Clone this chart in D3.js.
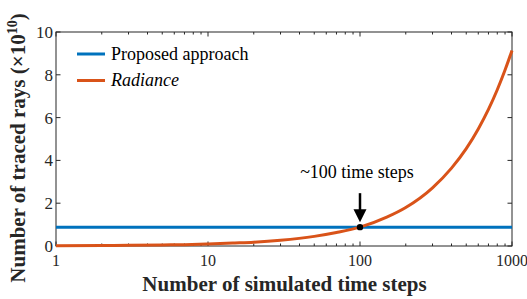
<!DOCTYPE html>
<html>
<head>
<meta charset="utf-8">
<script src="https://cdn.jsdelivr.net/npm/d3@7"></script>
<style>
  body { margin: 0; background: #fff; }
  text { font-family: "Liberation Serif", "Times New Roman", serif; fill: #262626; }
</style>
</head>
<body>
<div id="chart"></div>
<script>
// data
const steps = [1, 2, 3, 5, 7, 10, 15, 20, 30, 50, 70, 100, 150, 200, 300, 400, 500, 600, 700, 800, 900, 1000];
const radiance = [0.01, 0.02, 0.03, 0.05, 0.06, 0.09, 0.14, 0.18, 0.27, 0.45, 0.63, 0.88, 1.35, 1.8, 2.72, 3.64, 4.55, 5.47, 6.38, 7.3, 8.22, 9.14];
const proposedSteps = [1, 1000];
const proposed = [0.88, 0.88];
const xTicks = [1, 10, 100, 1000];
const yTicks = [0, 2, 4, 6, 8, 10];
const crossing = {x: 100, y: 0.88};

let width = 527, height = 299;
let margin = {left: 56, right: 15, top: 32, bottom: 53};

let x = d3.scaleLog().domain([1, 1000]).range([margin.left, width - margin.right]);
let y = d3.scaleLinear().domain([0, 10]).range([height - margin.bottom, margin.top]);

let svg = d3.select("#chart").append("svg")
    .attr("width", width)
    .attr("height", height);

// minor log ticks
let minor = [];
for (let d = 1; d < 1000; d *= 10) {
  for (let k = 2; k <= 9; k++) minor.push(d * k);
}

let axisColor = "#262626";
let x0 = x.range()[0], x1 = x.range()[1], y0 = y.range()[0], y1 = y.range()[1];

let g = svg.append("g");

// bottom & top ticks
[y0, y1].forEach((yy, i) => {
  let dir = i === 0 ? -1 : 1;
  g.selectAll(null).data(xTicks).enter().append("line")
    .attr("x1", d => x(d)).attr("x2", d => x(d))
    .attr("y1", yy).attr("y2", yy + dir * 4.5)
    .attr("stroke", axisColor).attr("stroke-width", 1);
  g.selectAll(null).data(minor).enter().append("line")
    .attr("x1", d => x(d)).attr("x2", d => x(d))
    .attr("y1", yy).attr("y2", yy + dir * 2.5)
    .attr("stroke", axisColor).attr("stroke-width", 1);
});

// left & right ticks
[x0, x1].forEach((xx, i) => {
  let dir = i === 0 ? 1 : -1;
  g.selectAll(null).data(yTicks).enter().append("line")
    .attr("x1", xx).attr("x2", xx + dir * 4.5)
    .attr("y1", d => y(d)).attr("y2", d => y(d))
    .attr("stroke", axisColor).attr("stroke-width", 1);
});

// box
g.append("rect")
  .attr("x", x0).attr("y", y1)
  .attr("width", x1 - x0).attr("height", y0 - y1)
  .attr("fill", "none").attr("stroke", axisColor).attr("stroke-width", 1);

// tick labels
g.selectAll(null).data(xTicks).enter().append("text")
  .attr("x", d => x(d)).attr("y", y0 + 19.5)
  .attr("text-anchor", "middle")
  .style("font-size", "16px")
  .text(d => d);

g.selectAll(null).data(yTicks).enter().append("text")
  .attr("x", x0 - 3).attr("y", d => y(d))
  .attr("dy", "0.35em")
  .attr("text-anchor", "end")
  .style("font-size", "17px")
  .text(d => d);

// axis titles
svg.append("text")
  .attr("x", (x0 + x1) / 2 + 0.5).attr("y", 290.5)
  .attr("text-anchor", "middle")
  .style("font-size", "21px").style("font-weight", "bold")
  .text("Number of simulated time steps");

let yt = svg.append("text")
  .attr("transform", "translate(25,148) rotate(-90)")
  .attr("text-anchor", "middle")
  .style("font-size", "21px").style("font-weight", "bold");
yt.append("tspan").text("Number of traced rays (×10");
yt.append("tspan").attr("dy", -8).style("font-size", "14px").text("10");
yt.append("tspan").attr("dy", 8).text(")");

// lines
let line = d3.line()
  .x(d => x(d[0]))
  .y(d => y(d[1]))
  .curve(d3.curveMonotoneX);

svg.append("path")
  .datum(d3.zip(proposedSteps, proposed))
  .attr("d", line)
  .attr("fill", "none").attr("stroke", "#0072BD").attr("stroke-width", 3);

svg.append("path")
  .datum(d3.zip(steps, radiance))
  .attr("d", line)
  .attr("fill", "none").attr("stroke", "#D95319").attr("stroke-width", 3);

// annotation
let cx = x(crossing.x), cy = y(crossing.y);
svg.append("circle").attr("cx", cx).attr("cy", cy).attr("r", 3.2).attr("fill", "#000");
svg.append("line")
  .attr("x1", cx).attr("x2", cx)
  .attr("y1", cy - 34).attr("y2", cy - 16)
  .attr("stroke", "#000").attr("stroke-width", 2.5);
svg.append("path")
  .attr("d", "M" + (cx - 6.5) + "," + (cy - 18) + "L" + (cx + 6.5) + "," + (cy - 18) + "L" + cx + "," + (cy - 5) + "Z")
  .attr("fill", "#000");
svg.append("text")
  .attr("x", cx - 3).attr("y", cy - 49)
  .attr("text-anchor", "middle")
  .style("font-size", "18px").style("fill", "#000")
  .text("~100 time steps");

// legend
let legend = [
  {name: "Proposed approach", color: "#0072BD", italic: false},
  {name: "Radiance", color: "#D95319", italic: true}
];
let lg = svg.selectAll(".legend").data(legend).enter().append("g")
  .attr("class", "legend")
  .attr("transform", (d, i) => "translate(77," + (54 + i * 26.5) + ")");
lg.append("line")
  .attr("x1", 0).attr("x2", 28)
  .attr("stroke", d => d.color).attr("stroke-width", 3);
lg.append("text")
  .attr("x", 34).attr("dy", "0.33em")
  .style("font-size", "18px").style("fill", "#000")
  .style("font-style", d => d.italic ? "italic" : "normal")
  .text(d => d.name);
</script>
</body>
</html>
